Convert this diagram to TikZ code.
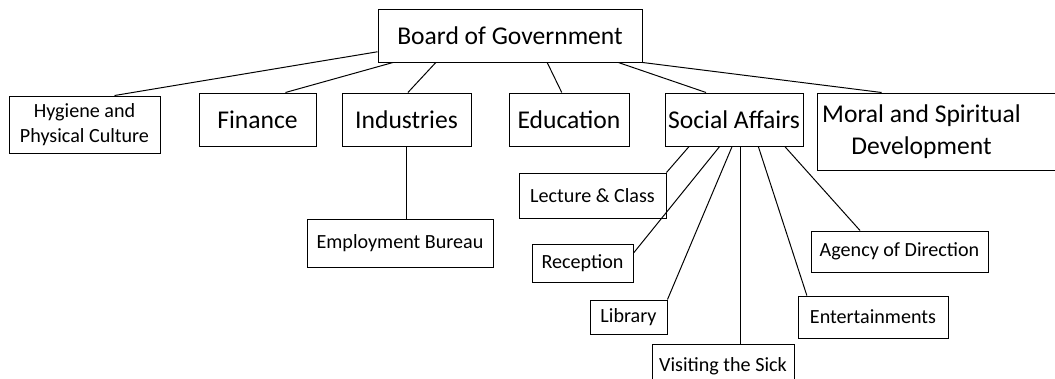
\documentclass[tikz,border=0pt]{standalone}
\usepackage{fontspec}
\setmainfont{Carlito}

\tikzset{
  box/.style={draw, line width=0.7pt, inner sep=0pt, align=center},
  big/.style={box, font=\fontsize{18.2}{22.4}\selectfont},
  small/.style={box, font=\fontsize{14.3}{17.7}\selectfont},
}

\begin{document}
\begin{tikzpicture}[x=0.025cm,y=-0.025cm,line width=0.7pt]
    \useasboundingbox (0,0) rectangle (1055,379);
    \clip (0,0) rectangle (1055,379);
	%Kaesten
    \foreach \n/\s/\x/\y/\w/\h/\t in {
        board/big/510/35.5/264/53/{Board of Government},
        hyg/small/84.5/124.5/151/57/{Hygiene and\\Physical Culture},
        fin/big/257.5/119.5/117/53/{Finance},
        ind/big/406.5/119.5/129/53/{Industries},
        edu/big/569/119.5/120/53/{Education},
        soc/big/734/119.5/138/53/{Social Affairs},
        moral/big/939.5/131.5/245/77/{},
        emp/small/400/243/186/48/{Employment Bureau},
        lec/small/592.5/195.5/147/45/{Lecture \& Class},
        rec/small/582.5/263/101/38/{Reception},
        lib/small/628.5/317/77/34/{Library},
        vis/small/723/366/142/44/{Visiting the Sick},
        ent/small/873/317/150/42/{Entertainments},
        agy/small/899.5/251.5/177/41/{Agency of Direction}}
      \node[\s, minimum width=\w*0.025cm, minimum height=\h*0.025cm] (\n) at (\x,\y) {\t};
    \node[big, draw=none] (moraltext) at (921.5,131.5) {Moral and Spiritual\\Development};
	%Verbindungen
    \foreach \a/\b in {board.187/hyg.44, board.193/fin.44, board.200/ind.87,
        board.324/edu.105, board.346/soc.136, board.south east/moral.146,
        soc.211/lec.north east, soc.242/rec.11, soc.266/lib.north east,
        soc.312/ent.162, soc.332/agy.152}
      \draw (\a) -- (\b);
    \draw (ind.south) -- (ind.south |- emp.north);
    \draw (soc.283) -- (soc.283 |- vis.north);
\end{tikzpicture}
\end{document}
